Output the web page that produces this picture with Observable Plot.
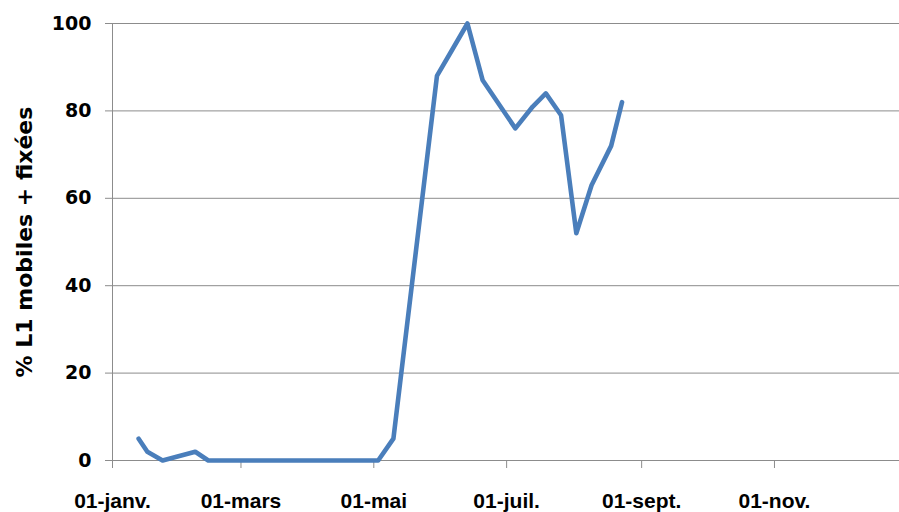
<!DOCTYPE html>
<html>
<head>
<meta charset="utf-8">
<script src="https://cdn.jsdelivr.net/npm/d3@7"></script>
<script src="https://cdn.jsdelivr.net/npm/@observablehq/plot@0.6"></script>
<style>
  html, body { margin: 0; padding: 0; background: #fff; }
  #chart svg { display: block; }
</style>
</head>
<body>
<div id="chart"></div>
<script>
// Series: dates and % L1 (mobiles + fixées)
const dates = [
  "2011-01-13", "2011-01-17", "2011-01-24", "2011-02-08", "2011-02-14",
  "2011-05-03", "2011-05-10", "2011-05-30", "2011-06-06", "2011-06-13",
  "2011-06-20", "2011-07-05", "2011-07-13", "2011-07-19", "2011-07-26",
  "2011-08-02", "2011-08-09", "2011-08-18", "2011-08-23"
];
const values = [
  5, 2, 0, 2, 0,
  0, 5, 88, 94, 100,
  87, 76, 81, 84, 79,
  52, 63, 72, 82
];
// Axis ticks
const xTickDates = ["2011-01-01", "2011-03-01", "2011-05-01", "2011-07-01", "2011-09-01", "2011-11-01"];
const xTickLabels = ["01-janv.", "01-mars", "01-mai", "01-juil.", "01-sept.", "01-nov."];
const yTicks = [0, 20, 40, 60, 80, 100];
const yLabel = "% L1 mobiles + fixées";
const xDomain = ["2011-01-01", "2011-12-28T10:00"];

const data = dates.map((d, i) => ({date: new Date(d), value: values[i]}));
const xTicks = xTickDates.map(d => new Date(d));
const labelOf = new Map(xTicks.map((d, i) => [+d, xTickLabels[i]]));

const chart = Plot.plot({
  width: 899,
  height: 512,
  marginLeft: 112,
  marginRight: 0,
  marginTop: 23,
  marginBottom: 52,
  style: {background: "#fff", color: "#000"},
  x: {type: "utc", domain: xDomain.map(d => new Date(d))},
  y: {domain: [0, 100]},
  marks: [
    Plot.gridY(yTicks, {stroke: "#8c8c8c", strokeOpacity: 1, strokeWidth: 1}),
    Plot.ruleY([0], {stroke: "#8c8c8c", strokeWidth: 1}),
    Plot.ruleX([xDomain[0]].map(d => new Date(d)), {y1: 0, y2: 100, stroke: "#8c8c8c", strokeWidth: 1}),
    Plot.axisY({
      ticks: yTicks, tickSize: 7, tickPadding: 14, stroke: "#8c8c8c",
      fontSize: 19, fontWeight: "bold", fontFamily: "DejaVu Sans", fill: "#000",
      label: null
    }),
    Plot.axisY({
      ticks: [], label: yLabel, labelAnchor: "center", labelOffset: 96, labelArrow: "none",
      fontSize: 22, fontWeight: "bold", fontFamily: "DejaVu Sans", fill: "#000"
    }),
    Plot.axisX({
      ticks: xTicks, tickSize: 8, tickPadding: 25, stroke: "#8c8c8c",
      tickFormat: d => labelOf.get(+d),
      fontSize: 21, fontWeight: "bold", fontFamily: "Liberation Sans", fill: "#000",
      label: null
    }),
    Plot.line(data, {x: "date", y: "value", stroke: "#4a7ebb", strokeWidth: 4.6, strokeLinejoin: "round", strokeLinecap: "round"})
  ]
});
document.getElementById("chart").appendChild(chart);
</script>
</body>
</html>
